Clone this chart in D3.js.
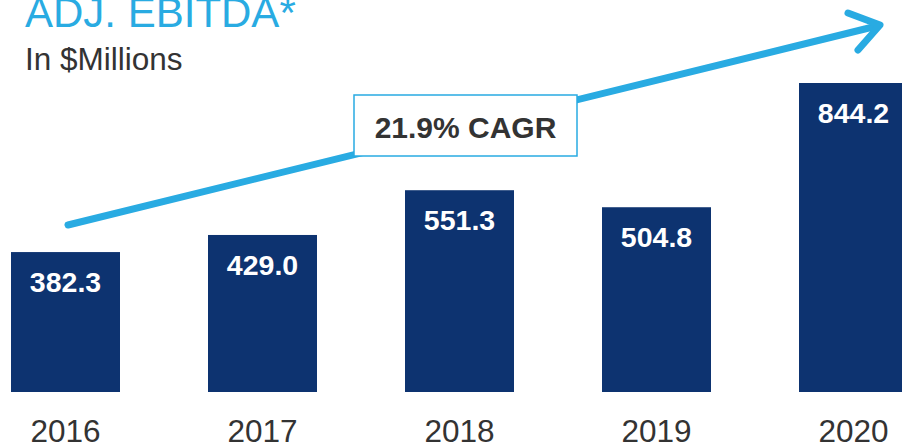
<!DOCTYPE html>
<html><head><meta charset="utf-8">
<script src="https://cdn.jsdelivr.net/npm/d3@7"></script>
<style>
html,body{margin:0;padding:0;background:#fff;}
svg{display:block;font-family:"Liberation Sans",Arial,Helvetica,sans-serif;}
</style></head>
<body>
<svg id="chart" width="902" height="445"></svg>
<script>
const years = ["2016","2017","2018","2019","2020"];
const values = [382.3, 429.0, 551.3, 504.8, 844.2];
const valueLabels = ["382.3","429.0","551.3","504.8","844.2"];
const title = "ADJ. EBITDA*";
const subtitle = "In $Millions";
const cagrLabel = "21.9% CAGR";

const svg = d3.select("#chart");
const navy = "#0d3370", sky = "#29abe2", dark = "#333333";

const x = d3.scaleBand().domain(years).range([11, 908]).paddingInner(0.4467).paddingOuter(0);
const y = d3.scaleLinear().domain([0, 844.2]).range([392, 83]);

// title
svg.append("text").attr("x", 25).attr("y", 27).attr("fill", sky)
  .attr("font-size", 42).text(title);
svg.append("text").attr("x", 25).attr("y", 70).attr("fill", dark)
  .attr("font-size", 31.5).text(subtitle);

// bars
svg.selectAll("rect.bar").data(values).join("rect").attr("class","bar")
  .attr("x", (d,i) => x(years[i])).attr("width", x.bandwidth())
  .attr("y", d => y(d)).attr("height", d => y(0) - y(d)).attr("fill", navy);

// value labels
svg.selectAll("text.val").data(values).join("text").attr("class","val")
  .attr("x", (d,i) => x(years[i]) + x.bandwidth()/2)
  .attr("y", d => y(d) + 40).attr("text-anchor","middle")
  .attr("fill","#fff").attr("font-weight","bold").attr("font-size", 28.5)
  .text((d,i) => valueLabels[i]);

// x axis labels
const xAxis = d3.axisBottom(x).tickSize(0).tickPadding(0);
const gx = svg.append("g").attr("transform","translate(0,392)").call(xAxis);
gx.select(".domain").remove();
gx.selectAll("text").attr("font-size", 31.5).attr("fill", dark)
  .attr("font-family","Liberation Sans, Arial, sans-serif")
  .attr("dy", null).attr("y", 50);

// arrow (annotation)
const x0 = x("2016") + x.bandwidth()/2 + 2.5, y0 = 225;
const x1 = 880, y1 = 25;
const arrow = svg.append("g").attr("stroke", sky).attr("stroke-width", 7)
  .attr("stroke-linecap","round").attr("fill","none");
arrow.append("line").attr("x1", x0).attr("y1", y0).attr("x2", x1 - 3).attr("y2", y1 + 1);
arrow.append("path").attr("stroke-linejoin","round")
  .attr("d", `M${x1-32},${y1-12} L${x1},${y1} L${x1-22},${y1+25}`);

// CAGR box
svg.append("rect").attr("x", 354).attr("y", 95).attr("width", 223).attr("height", 61)
  .attr("fill","#fff").attr("stroke", sky).attr("stroke-width", 1.5);
svg.append("text").attr("x", 465.5).attr("y", 138).attr("text-anchor","middle")
  .attr("fill", dark).attr("font-weight","bold").attr("font-size", 30).text(cagrLabel);
</script>
</body></html>
